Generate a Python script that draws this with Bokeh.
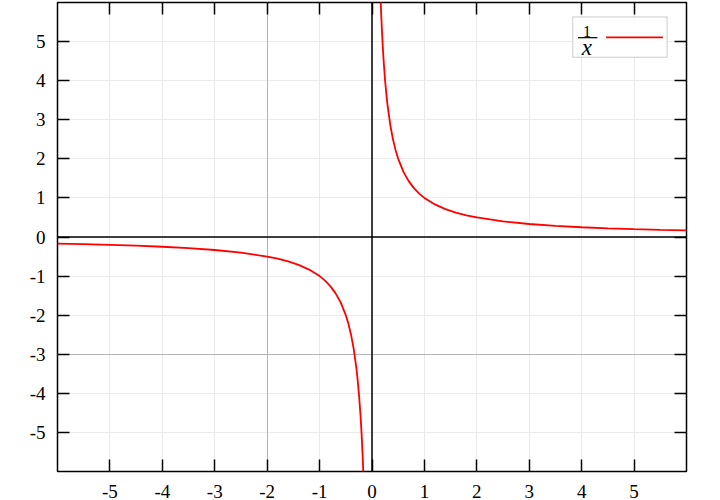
from bokeh.plotting import figure
from bokeh.models import (Range1d, LinearAxis, FixedTicker, Grid, Span, BoxAnnotation, Label,
                          CustomLabelingPolicy)
from bokeh.embed import file_html
from bokeh.resources import INLINE

# Curve y = 1/x (two branches)
x_left = [-6.0, -5.5, -5.0, -4.5, -4.0, -3.5, -3.0, -2.5, -2.0, -1.8, -1.6, -1.4, -1.2,
          -1.0, -0.9, -0.8, -0.7, -0.6, -0.5, -0.45, -0.4, -0.35, -0.3, -0.28, -0.25,
          -0.22, -0.2, -0.18, -0.1667, -0.15]
y_left = [-0.167, -0.182, -0.2, -0.222, -0.25, -0.286, -0.333, -0.4, -0.5, -0.556, -0.625,
          -0.714, -0.833, -1.0, -1.111, -1.25, -1.429, -1.667, -2.0, -2.222, -2.5, -2.857,
          -3.333, -3.571, -4.0, -4.545, -5.0, -5.556, -6.0, -6.667]
x_right = [0.15, 0.1667, 0.18, 0.2, 0.22, 0.25, 0.28, 0.3, 0.35, 0.4, 0.45, 0.5, 0.6, 0.7,
           0.8, 0.9, 1.0, 1.2, 1.4, 1.6, 1.8, 2.0, 2.5, 3.0, 3.5, 4.0, 4.5, 5.0, 5.5, 6.0]
y_right = [6.667, 6.0, 5.556, 5.0, 4.545, 4.0, 3.571, 3.333, 2.857, 2.5, 2.222, 2.0, 1.667,
           1.429, 1.25, 1.111, 1.0, 0.833, 0.714, 0.625, 0.556, 0.5, 0.4, 0.333, 0.286,
           0.25, 0.222, 0.2, 0.182, 0.167]

ticks = [-5, -4, -3, -2, -1, 0, 1, 2, 3, 4, 5]
tick_labels = ["-5", "-4", "-3", "-2", "-1", "0", "1", "2", "3", "4", "5"]
dark_x_grid = [-2]
dark_y_grid = [-3]
legend_text_top = "1"
legend_text_bottom = "x"

FONT = "Liberation Serif"

p = figure(width=720, height=500, output_backend="svg", toolbar_location=None,
           x_range=Range1d(-6, 6), y_range=Range1d(-6, 6),
           min_border_left=57, min_border_right=34, min_border_top=2, min_border_bottom=0,
           background_fill_color="white", border_fill_color="white")

p.outline_line_color = "black"
p.outline_line_width = 1.5

# grids
for g in (p.xgrid[0], p.ygrid[0]):
    g.ticker = FixedTicker(ticks=ticks)
    g.grid_line_color = "#ebebeb"
    g.grid_line_width = 1
p.add_layout(Grid(dimension=0, ticker=FixedTicker(ticks=dark_x_grid),
                  grid_line_color="#b4b4b4", grid_line_width=1), "center")
p.add_layout(Grid(dimension=1, ticker=FixedTicker(ticks=dark_y_grid),
                  grid_line_color="#b4b4b4", grid_line_width=1), "center")

overrides = {t: s for t, s in zip(ticks, tick_labels)}

def style_axis(ax, standoff, show_labels=True):
    ax.ticker = FixedTicker(ticks=ticks)
    ax.axis_line_color = None
    ax.major_tick_in = 12
    ax.major_tick_out = 0
    ax.minor_tick_in = 0
    ax.minor_tick_out = 0
    ax.major_tick_line_color = "black"
    ax.major_tick_line_width = 1.5
    ax.major_label_standoff = standoff
    ax.major_label_text_font = FONT
    ax.major_label_text_color = "black"
    ax.major_label_overrides = overrides
    if show_labels:
        ax.major_label_text_font_size = "19px"
    else:
        # mirrored tick marks only (gnuplot style), no labels on these sides
        ax.major_label_text_font_size = "0px"
        ax.major_label_policy = CustomLabelingPolicy(
            code="for (const i of Array.from(indices)) indices.unset(i); return indices")

style_axis(p.xaxis[0], 13)
style_axis(p.yaxis[0], 12)

top = LinearAxis()
style_axis(top, 0, show_labels=False)
p.add_layout(top, "above")
right = LinearAxis()
style_axis(right, 0, show_labels=False)
p.add_layout(right, "right")

# zero lines
p.add_layout(Span(location=0, dimension="height", line_color="black", line_width=1.5))
p.add_layout(Span(location=0, dimension="width", line_color="black", line_width=1.5))

# curve
p.line(x_left, y_left, line_color="#ff0000", line_width=1.8)
p.line(x_right, y_right, line_color="#ff0000", line_width=1.8)

# legend (gnuplot-style key)
p.add_layout(BoxAnnotation(left=3.83, right=5.63, bottom=4.60, top=5.63,
                           fill_color="white", fill_alpha=1.0,
                           line_color="#555555", line_width=1))
p.add_layout(Label(x=4.10, y=5.27, text=legend_text_top, text_align="center",
                   text_baseline="middle", text_font=FONT, text_font_size="16px",
                   text_color="black"))
p.add_layout(Label(x=4.10, y=4.85, text=legend_text_bottom, text_align="center",
                   text_baseline="middle", text_font=FONT, text_font_size="23px",
                   text_font_style="italic", text_color="black"))
p.segment(x0=[3.93], y0=[5.10], x1=[4.30], y1=[5.10], line_color="black",
          line_width=1.2, level="overlay")
p.segment(x0=[4.465], y0=[5.11], x1=[5.55], y1=[5.11], line_color="#ff0000",
          line_width=1.8, level="overlay")

open("out.html", "w").write(file_html(p, INLINE))
